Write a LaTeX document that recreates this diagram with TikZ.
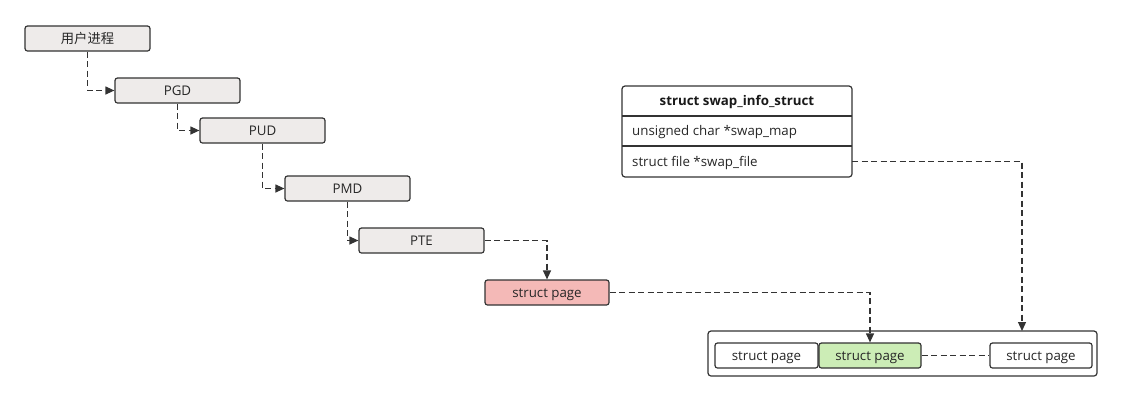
\documentclass[tikz,border=0pt]{standalone}
\usepackage{fontspec}
\setmainfont{Open Sans}
\newfontfamily\cjk{Noto Sans CJK SC}
\usetikzlibrary{arrows.meta}
\definecolor{boxgray}{HTML}{EEEBEA}
\definecolor{edge}{HTML}{333333}
\definecolor{pinkfill}{HTML}{F4B9B7}
\definecolor{greenfill}{HTML}{CCEDB6}
\tikzset{
  fnt/.style={font=\fontsize{13.3}{15}\selectfont, text=black!85},
  base/.style={draw=edge, line width=1.2pt, rounded corners=2.5pt, minimum height=25pt, inner sep=0pt, fnt, text height=11pt, text depth=1.5pt},
  lvl/.style={base, fill=boxgray, minimum width=125pt},
  pagebox/.style={base, fill=white, minimum width=103pt},
  conn/.style={draw=edge, line width=1.2pt, dash pattern=on 6pt off 3.5pt, -{Triangle[length=9pt,width=8pt]}},
  connplain/.style={draw=edge, line width=1.2pt, dash pattern=on 6pt off 3.5pt},
  rowtxt/.style={fnt, inner sep=0pt, text height=11pt, text depth=1.5pt},
}
\begin{document}
\begin{tikzpicture}[x=1pt,y=-1pt]
\useasboundingbox (0,0) rectangle (1121,400);
\node[lvl] (proc) at (87.5,38.5) {\cjk 用户进程};
\node[lvl] (pgd) at (177.5,90.5) {PGD};
\node[lvl] (pud) at (262.5,130.5) {PUD};
\node[lvl] (pmd) at (347.5,188.5) {PMD};
\node[lvl] (pte) at (421.5,240.5) {PTE};
\node[base, fill=pinkfill, minimum width=124pt] (sp) at (547,292.5) {struct page};
% swap_info_struct table
\draw[draw=edge, line width=1.2pt, rounded corners=3pt] (622,86) rectangle (852,177);
\draw[draw=edge, line width=1.2pt] (622,116) -- (852,116);
\draw[draw=edge, line width=1.2pt] (622,146) -- (852,146);
\node[rowtxt, font=\fontsize{13.3}{15}\selectfont\bfseries, text=black!90] (title) at (737,101) {struct swap\_info\_struct};
\node[rowtxt, anchor=west] (map) at (632,131) {unsigned char *swap\_map};
\node[rowtxt, anchor=west] (file) at (632,161.5) {struct file *swap\_file};
\coordinate (fileR) at (852,161.5);
% container
\draw[draw=edge, line width=1.2pt, rounded corners=3pt] (708,331) rectangle (1097,376);
\coordinate (contTop) at (1022,331);
\node[pagebox] (p1) at (766.5,355.5) {struct page};
\node[pagebox, fill=greenfill, minimum width=102pt] (p2) at (870,355.5) {struct page};
\node[pagebox, minimum width=102pt] (p3) at (1041,355.5) {struct page};
% connectors
\draw[conn] (proc.south) |- (pgd.west);
\draw[conn] (pgd.south) |- (pud.west);
\draw[conn] (pud.south) |- (pmd.west);
\draw[conn] (pmd.south) |- (pte.west);
\draw[conn] (pte.east) -| (sp.north);
\draw[conn] (sp.east) -| (p2.north);
\draw[conn] (fileR) -| (contTop);
\draw[connplain] (p2.east) -- (p3.west);
\end{tikzpicture}
\end{document}
